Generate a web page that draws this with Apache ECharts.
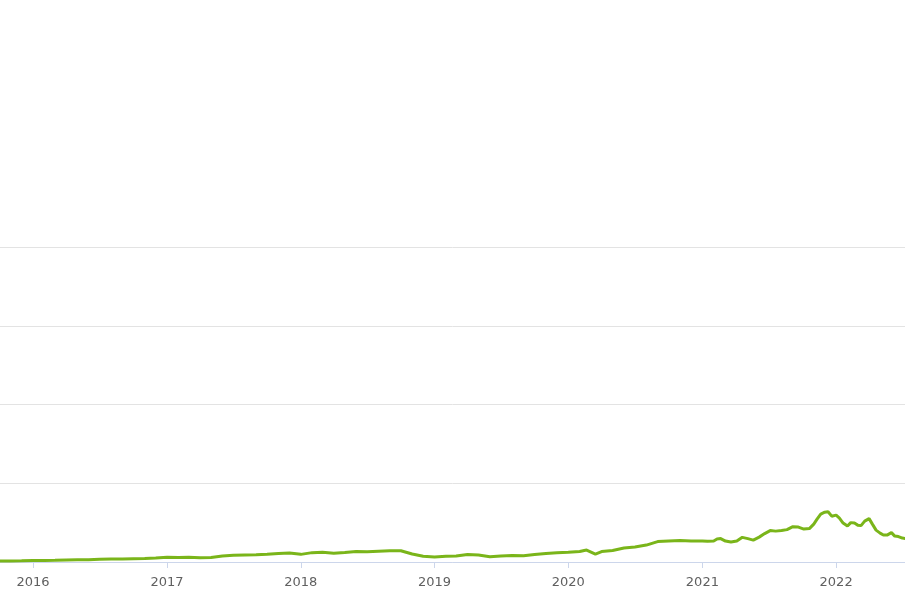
<!DOCTYPE html>
<html>
<head>
<meta charset="utf-8">
<script src="https://cdn.jsdelivr.net/npm/echarts@6/dist/echarts.min.js"></script>
<style>
html,body{margin:0;padding:0;background:#fff;}
#c{width:905px;height:613px;}
</style>
</head>
<body>
<div id="c"></div>
<script>
const dates = [
'2015-10-01','2015-11-01','2015-12-01','2016-01-01','2016-02-01','2016-03-01','2016-04-01','2016-05-01','2016-06-01','2016-07-01','2016-08-01','2016-09-01','2016-10-01','2016-11-01','2016-12-01',
'2017-01-01','2017-02-01','2017-03-01','2017-04-01','2017-05-01','2017-06-01','2017-07-01','2017-08-01','2017-09-01','2017-10-01','2017-11-01','2017-12-01',
'2018-01-01','2018-02-01','2018-03-01','2018-04-01','2018-05-01','2018-06-01','2018-07-01','2018-08-01','2018-09-01','2018-10-01','2018-11-01','2018-12-01',
'2019-01-01','2019-02-01','2019-03-01','2019-04-01','2019-05-01','2019-06-01','2019-07-01','2019-08-01','2019-09-01','2019-10-01','2019-11-01','2019-12-01',
'2020-01-01','2020-02-01','2020-02-20','2020-03-15','2020-04-01','2020-05-01','2020-06-01','2020-07-01','2020-08-01','2020-09-01','2020-10-01','2020-11-01','2020-12-01',
'2021-01-01','2021-01-15','2021-02-01','2021-02-10','2021-02-20','2021-03-05','2021-03-20','2021-04-05','2021-04-20','2021-05-05','2021-05-20','2021-06-05','2021-06-20',
'2021-07-05','2021-07-20','2021-08-05','2021-08-20','2021-09-05','2021-09-20','2021-10-05','2021-10-20','2021-11-01','2021-11-10','2021-11-20','2021-12-01','2021-12-10','2021-12-20',
'2022-01-01','2022-01-10','2022-01-20','2022-02-01','2022-02-10','2022-02-20','2022-03-01','2022-03-10','2022-03-20','2022-04-01','2022-04-10','2022-04-20',
'2022-05-01','2022-05-10','2022-05-20','2022-06-01','2022-06-10','2022-06-20','2022-07-01','2022-07-10'
];
const values = [
1.3,1.3,1.5,1.8,2.0,2.2,2.5,2.8,3.0,3.4,3.8,3.8,4.1,4.4,5.1,
5.9,5.7,5.9,5.3,5.7,7.6,8.5,8.9,9.1,9.9,10.8,11.4,
9.7,11.9,12.3,11.0,12.0,13.3,13.0,13.7,14.3,14.3,10.1,7.2,
6.3,7.2,7.6,9.5,8.9,6.7,7.6,8.2,8.0,9.5,10.8,11.6,
12.3,13.3,15.2,10.1,13.3,14.6,17.7,19.0,21.5,25.9,26.6,27.2,26.6,
26.6,26.2,26.6,29.1,29.7,26.6,25.3,26.6,31.3,29.7,27.8,31.6,36.1,
39.9,39.2,39.9,41.1,44.9,44.3,41.8,42.4,48.1,54.4,60.8,63.3,63.9,58.2,
59.5,55.7,49.4,45.6,50.0,49.4,46.8,46.2,51.9,55.1,48.1,40.5,
36.7,34.2,34.2,37.3,32.9,32.3,30.4,29.7
];
const yTicks = [0,100,200,300,400];

const chart = echarts.init(document.getElementById('c'), null, {renderer:'canvas'});
const YEAR = 365*24*3600*1000;
chart.setOption({
  animation:false,
  backgroundColor:'#ffffff',
  grid:{left:0,right:0,top:247,bottom:51,containLabel:false},
  xAxis:{
    type:'time',
    min:'2015-10-03',
    max:'2022-07-08',
    minInterval:YEAR,
    maxInterval:YEAR*1.01,
    axisLine:{show:true,lineStyle:{color:'#ccd6eb',width:1}},
    axisTick:{show:true,length:6,lineStyle:{color:'#ccd6eb'}},
    axisLabel:{
      color:'#606060',fontSize:13,fontFamily:'DejaVu Sans',margin:14,
      showMinLabel:false,showMaxLabel:false,
      formatter:function(v){return String(new Date(v).getFullYear());}
    },
    splitLine:{show:false}
  },
  yAxis:{
    type:'value',
    min:yTicks[0],max:yTicks[yTicks.length-1],interval:100,
    axisLine:{show:false},axisTick:{show:false},axisLabel:{show:false},
    splitLine:{show:true,lineStyle:{color:'#e3e3e3',width:1}}
  },
  series:[{
    type:'line',
    data:dates.map((d,i)=>[d,values[i]]),
    showSymbol:false,
    lineStyle:{color:'#7ab51a',width:3},
    itemStyle:{color:'#7ab51a'},
    z:3
  }]
});
</script>
</body>
</html>
